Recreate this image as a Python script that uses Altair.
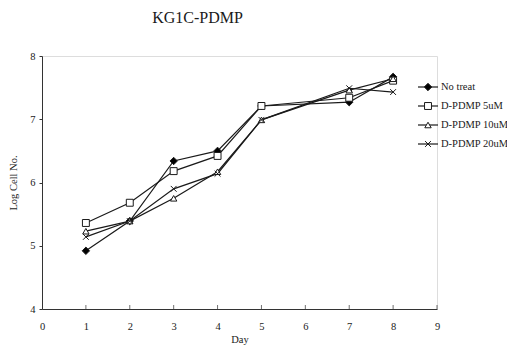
import altair as alt
import pandas as pd

# ---- data ----
series = ["No treat", "D-PDMP 5uM", "D-PDMP 10uM", "D-PDMP 20uM"]
days = [1, 2, 3, 4, 5, 7, 8]
no_treat = [4.92, 5.39, 6.34, 6.50, 7.21, 7.27, 7.67]
pdmp_5 = [5.36, 5.68, 6.18, 6.42, 7.21, 7.34, 7.61]
pdmp_10 = [5.23, 5.39, 5.75, 6.17, 6.99, 7.46, 7.64]
pdmp_20 = [5.14, 5.39, 5.90, 6.14, 6.99, 7.49, 7.43]
x_ticks = [0, 1, 2, 3, 4, 5, 6, 7, 8, 9]
y_ticks = [4, 5, 6, 7, 8]

rows = []
for name, vals in zip(series, [no_treat, pdmp_5, pdmp_10, pdmp_20]):
    for d, v in zip(days, vals):
        rows.append({"series": name, "day": d, "value": v})
df = pd.DataFrame(rows)
leg = pd.DataFrame({"series": series})
ticks_df = pd.DataFrame({"day": x_ticks[1:]})

SERIF = "Liberation Serif"
INK = "#1a1a1a"

shape_scale = alt.Scale(domain=series,
                        range=["diamond", "square", "triangle-up", "M-1,-1L1,1M1,-1L-1,1"])
fill_scale = alt.Scale(domain=series, range=["black", "white", "white", "white"])
size_scale = alt.Scale(domain=series, range=[55, 34, 40, 36])
x_scale = alt.Scale(domain=[0, 9], nice=False)
y_scale = alt.Scale(domain=[4, 8], nice=False)

x_enc = alt.X("day:Q", scale=x_scale,
              axis=alt.Axis(values=x_ticks, format="d", title="Day", grid=False,
                            ticks=False, tickSize=0, labelPadding=12, titlePadding=3,
                            labelFont=SERIF, labelFontSize=10.5, labelColor=INK,
                            titleFont=SERIF, titleFontSize=10.5, titleFontWeight="normal",
                            titleColor=INK, domainColor="#333", labelFlush=False))

lines = alt.Chart(df).mark_line(color=INK, strokeWidth=1.2).encode(
    x=x_enc,
    y=alt.Y("value:Q", scale=y_scale,
            axis=alt.Axis(values=y_ticks, format="d", title="Log Cell No.", grid=False,
                          tickSize=3, tickColor="#333", labelPadding=4, titlePadding=11,
                          labelFont=SERIF, labelFontSize=10.5, labelColor=INK,
                          titleFont=SERIF, titleFontSize=10.5, titleFontWeight="normal",
                          titleColor=INK, domainColor="#333", labelFlush=False)),
    detail="series:N",
)

points = alt.Chart(df).mark_point(stroke=INK, strokeWidth=1, opacity=1).encode(
    x=alt.X("day:Q", scale=x_scale),
    y=alt.Y("value:Q", scale=y_scale, axis=None),
    shape=alt.Shape("series:N", scale=shape_scale, legend=None),
    fill=alt.Fill("series:N", scale=fill_scale, legend=None),
    size=alt.Size("series:N", scale=size_scale, legend=None),
)

ticks = alt.Chart(ticks_df).mark_tick(orient="vertical", size=4, thickness=1,
                                      color="#333", yOffset=-2).encode(
    x=alt.X("day:Q", scale=x_scale),
    y=alt.YDatum(4, scale=y_scale, axis=None),
)

leg_y = alt.Y("series:N", axis=None,
              scale=alt.Scale(type="point", domain=series, range=[31, 88], padding=0))

leg_rule = alt.Chart(leg).mark_rule(color=INK, strokeWidth=1.2).encode(
    x=alt.value(376), x2=alt.value(396), y=leg_y)
leg_points = alt.Chart(leg).mark_point(stroke=INK, strokeWidth=1, opacity=1).encode(
    x=alt.value(386), y=leg_y,
    shape=alt.Shape("series:N", scale=shape_scale, legend=None),
    fill=alt.Fill("series:N", scale=fill_scale, legend=None),
    size=alt.Size("series:N", scale=size_scale, legend=None),
)
leg_text = alt.Chart(leg).mark_text(align="left", baseline="middle", font=SERIF,
                                    fontSize=10.5, color=INK).encode(
    x=alt.value(399), y=leg_y, text="series:N")

chart = (
    alt.layer(lines, points, ticks, leg_rule, leg_points, leg_text)
    .resolve_scale(y="independent")
    .properties(
        width=395, height=253,
        padding={"left": 34, "top": 48, "right": 70, "bottom": 37},
        autosize=alt.AutoSizeParams(type="none"),
        title=alt.Title("KG1C-PDMP", font=SERIF, fontSize=16, fontWeight="normal",
                        color=INK, anchor="middle", frame="group", dx=-42,
                        offset=12, baseline="alphabetic"),
    )
    .configure_view(stroke=None)
    .configure(background="white")
)

chart.save("out.html", embed_options={"renderer": "svg", "actions": False})
